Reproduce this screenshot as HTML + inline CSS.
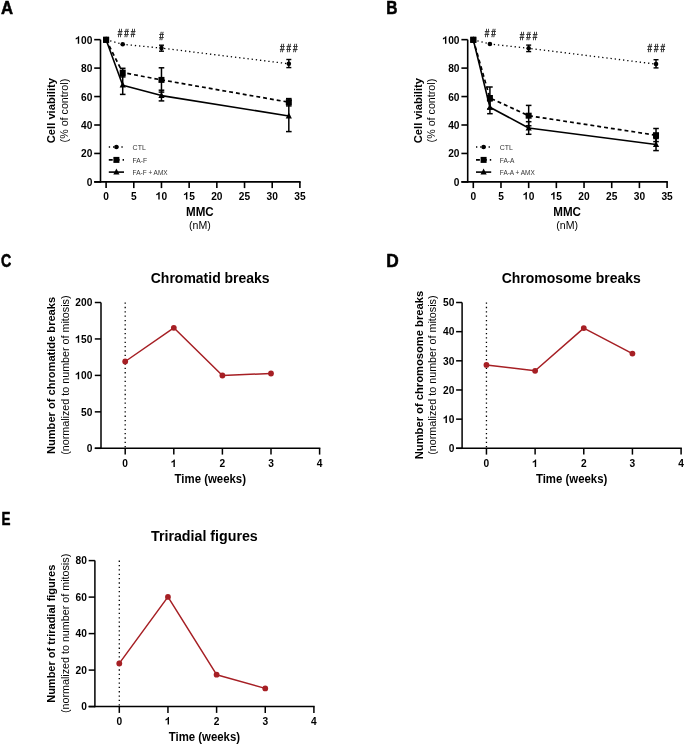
<!DOCTYPE html><html><head><meta charset="utf-8"><style>html,body{margin:0;padding:0;background:#fff;}svg{display:block;will-change:transform;filter:blur(0.35px);}text{font-family:"Liberation Sans", sans-serif;}</style></head><body>
<svg width="685" height="745" viewBox="0 0 685 745">
<rect width="685" height="745" fill="#fff"/>
<text transform="translate(0.9 13.8) scale(0.92 1)" font-size="18.2" font-weight="bold" fill="#000" stroke="#000" stroke-width="0.55" stroke-linejoin="round">A</text>
<text transform="translate(386.2 13.8) scale(0.85 1)" font-size="18.2" font-weight="bold" fill="#000" stroke="#000" stroke-width="0.55" stroke-linejoin="round">B</text>
<text transform="translate(1 266.8) scale(0.78 1)" font-size="18.2" font-weight="bold" fill="#000" stroke="#000" stroke-width="0.55" stroke-linejoin="round">C</text>
<text transform="translate(386.2 266.8) scale(0.95 1)" font-size="18.2" font-weight="bold" fill="#000" stroke="#000" stroke-width="0.55" stroke-linejoin="round">D</text>
<text transform="translate(1.4 524.8) scale(0.74 1)" font-size="18.2" font-weight="bold" fill="#000" stroke="#000" stroke-width="0.55" stroke-linejoin="round">E</text>
<line x1="100.5" y1="39.65" x2="100.5" y2="182.7" stroke="#000" stroke-width="1.6" stroke-linecap="butt"/>
<line x1="94.2" y1="181.9" x2="300.69" y2="181.9" stroke="#000" stroke-width="1.6" stroke-linecap="butt"/>
<line x1="94.2" y1="181.9" x2="100.5" y2="181.9" stroke="#000" stroke-width="1.6" stroke-linecap="butt"/>
<text transform="translate(86.63 185.9) scale(1 1.04)" font-size="10.2" font-weight="bold" fill="#000">0</text>
<line x1="94.2" y1="153.45" x2="100.5" y2="153.45" stroke="#000" stroke-width="1.6" stroke-linecap="butt"/>
<text transform="translate(80.95 157.45) scale(1 1.04)" font-size="10.2" font-weight="bold" fill="#000">2</text>
<text transform="translate(86.63 157.45) scale(1 1.04)" font-size="10.2" font-weight="bold" fill="#000">0</text>
<line x1="94.2" y1="125" x2="100.5" y2="125" stroke="#000" stroke-width="1.6" stroke-linecap="butt"/>
<text transform="translate(80.95 129) scale(1 1.04)" font-size="10.2" font-weight="bold" fill="#000">4</text>
<text transform="translate(86.63 129) scale(1 1.04)" font-size="10.2" font-weight="bold" fill="#000">0</text>
<line x1="94.2" y1="96.55" x2="100.5" y2="96.55" stroke="#000" stroke-width="1.6" stroke-linecap="butt"/>
<text transform="translate(80.95 100.55) scale(1 1.04)" font-size="10.2" font-weight="bold" fill="#000">6</text>
<text transform="translate(86.63 100.55) scale(1 1.04)" font-size="10.2" font-weight="bold" fill="#000">0</text>
<line x1="94.2" y1="68.1" x2="100.5" y2="68.1" stroke="#000" stroke-width="1.6" stroke-linecap="butt"/>
<text transform="translate(80.95 72.1) scale(1 1.04)" font-size="10.2" font-weight="bold" fill="#000">8</text>
<text transform="translate(86.63 72.1) scale(1 1.04)" font-size="10.2" font-weight="bold" fill="#000">0</text>
<line x1="94.2" y1="39.65" x2="100.5" y2="39.65" stroke="#000" stroke-width="1.6" stroke-linecap="butt"/>
<polygon points="79.17,43.65 79.17,36.15 78.19,36.15 77.85,36.92 77.22,37.45 76.45,37.86 75.71,38.09 75.71,39.52 76.5,39.21 77.22,38.84 77.77,38.47 77.77,43.65" fill="#000"/>
<text transform="translate(80.95 43.65) scale(1 1.04)" font-size="10.2" font-weight="bold" fill="#000">0</text>
<text transform="translate(86.63 43.65) scale(1 1.04)" font-size="10.2" font-weight="bold" fill="#000">0</text>
<line x1="106.1" y1="181.9" x2="106.1" y2="188.1" stroke="#000" stroke-width="1.6" stroke-linecap="butt"/>
<text transform="translate(103.26 199.5) scale(1 1.04)" font-size="10.2" font-weight="bold" fill="#000">0</text>
<line x1="133.78" y1="181.9" x2="133.78" y2="188.1" stroke="#000" stroke-width="1.6" stroke-linecap="butt"/>
<text transform="translate(130.95 199.5) scale(1 1.04)" font-size="10.2" font-weight="bold" fill="#000">5</text>
<line x1="161.47" y1="181.9" x2="161.47" y2="188.1" stroke="#000" stroke-width="1.6" stroke-linecap="butt"/>
<polygon points="159.68,199.5 159.68,192 158.7,192 158.37,192.77 157.73,193.3 156.97,193.71 156.23,193.94 156.23,195.37 157.02,195.06 157.73,194.69 158.29,194.32 158.29,199.5" fill="#000"/>
<text transform="translate(161.47 199.5) scale(1 1.04)" font-size="10.2" font-weight="bold" fill="#000">0</text>
<line x1="189.15" y1="181.9" x2="189.15" y2="188.1" stroke="#000" stroke-width="1.6" stroke-linecap="butt"/>
<polygon points="187.37,199.5 187.37,192 186.39,192 186.05,192.77 185.42,193.3 184.65,193.71 183.91,193.94 183.91,195.37 184.71,195.06 185.42,194.69 185.97,194.32 185.97,199.5" fill="#000"/>
<text transform="translate(189.15 199.5) scale(1 1.04)" font-size="10.2" font-weight="bold" fill="#000">5</text>
<line x1="216.84" y1="181.9" x2="216.84" y2="188.1" stroke="#000" stroke-width="1.6" stroke-linecap="butt"/>
<text transform="translate(211.17 199.5) scale(1 1.04)" font-size="10.2" font-weight="bold" fill="#000">2</text>
<text transform="translate(216.84 199.5) scale(1 1.04)" font-size="10.2" font-weight="bold" fill="#000">0</text>
<line x1="244.53" y1="181.9" x2="244.53" y2="188.1" stroke="#000" stroke-width="1.6" stroke-linecap="butt"/>
<text transform="translate(238.85 199.5) scale(1 1.04)" font-size="10.2" font-weight="bold" fill="#000">2</text>
<text transform="translate(244.53 199.5) scale(1 1.04)" font-size="10.2" font-weight="bold" fill="#000">5</text>
<line x1="272.21" y1="181.9" x2="272.21" y2="188.1" stroke="#000" stroke-width="1.6" stroke-linecap="butt"/>
<text transform="translate(266.54 199.5) scale(1 1.04)" font-size="10.2" font-weight="bold" fill="#000">3</text>
<text transform="translate(272.21 199.5) scale(1 1.04)" font-size="10.2" font-weight="bold" fill="#000">0</text>
<line x1="299.89" y1="181.9" x2="299.89" y2="188.1" stroke="#000" stroke-width="1.6" stroke-linecap="butt"/>
<text transform="translate(294.22 199.5) scale(1 1.04)" font-size="10.2" font-weight="bold" fill="#000">3</text>
<text transform="translate(299.89 199.5) scale(1 1.04)" font-size="10.2" font-weight="bold" fill="#000">5</text>
<text transform="translate(199.9 216.1) scale(1 1.04)" font-size="11.6" font-weight="bold" text-anchor="middle" fill="#000">MMC</text>
<text transform="translate(199.9 229.2) scale(1 1.04)" font-size="10.6" font-weight="normal" text-anchor="middle" fill="#000">(nM)</text>
<text transform="translate(55.2 110.6) rotate(-90) scale(1 1.04)" font-size="11.2" font-weight="bold" text-anchor="middle" fill="#000">Cell viability</text>
<text transform="translate(68.2 110.6) rotate(-90) scale(1 1.04)" font-size="10.7" font-weight="normal" text-anchor="middle" fill="#000">(% of control)</text>
<polyline points="106.1,39.8 122.71,85.2 161.47,95.6 288.82,116" fill="none" stroke="#000" stroke-width="1.6" stroke-linejoin="round" stroke-linecap="butt"/>
<polyline points="106.1,39.8 122.71,72.6 161.47,79.9 288.82,102.2" fill="none" stroke="#000" stroke-width="1.7" stroke-linejoin="round" stroke-linecap="butt" stroke-dasharray="3.9 3"/>
<polyline points="106.1,39.8 122.71,44.3 161.47,48.1 288.82,63.8" fill="none" stroke="#000" stroke-width="1.3" stroke-linejoin="round" stroke-linecap="butt" stroke-dasharray="1.3 2.9"/>
<line x1="161.47" y1="45.2" x2="161.47" y2="51.2" stroke="#000" stroke-width="1.4" stroke-linecap="butt"/>
<line x1="158.97" y1="45.2" x2="163.97" y2="45.2" stroke="#000" stroke-width="1.4" stroke-linecap="butt"/>
<line x1="158.97" y1="51.2" x2="163.97" y2="51.2" stroke="#000" stroke-width="1.4" stroke-linecap="butt"/>
<line x1="288.82" y1="59.5" x2="288.82" y2="67.6" stroke="#000" stroke-width="1.4" stroke-linecap="butt"/>
<line x1="286.32" y1="59.5" x2="291.32" y2="59.5" stroke="#000" stroke-width="1.4" stroke-linecap="butt"/>
<line x1="286.32" y1="67.6" x2="291.32" y2="67.6" stroke="#000" stroke-width="1.4" stroke-linecap="butt"/>
<line x1="122.71" y1="68.3" x2="122.71" y2="76.9" stroke="#000" stroke-width="1.5" stroke-linecap="butt"/>
<line x1="119.91" y1="68.3" x2="125.51" y2="68.3" stroke="#000" stroke-width="1.5" stroke-linecap="butt"/>
<line x1="119.91" y1="76.9" x2="125.51" y2="76.9" stroke="#000" stroke-width="1.5" stroke-linecap="butt"/>
<line x1="161.47" y1="67.8" x2="161.47" y2="92.1" stroke="#000" stroke-width="1.5" stroke-linecap="butt"/>
<line x1="158.67" y1="67.8" x2="164.27" y2="67.8" stroke="#000" stroke-width="1.5" stroke-linecap="butt"/>
<line x1="158.67" y1="92.1" x2="164.27" y2="92.1" stroke="#000" stroke-width="1.5" stroke-linecap="butt"/>
<line x1="288.82" y1="98.6" x2="288.82" y2="105.9" stroke="#000" stroke-width="1.5" stroke-linecap="butt"/>
<line x1="286.02" y1="98.6" x2="291.62" y2="98.6" stroke="#000" stroke-width="1.5" stroke-linecap="butt"/>
<line x1="286.02" y1="105.9" x2="291.62" y2="105.9" stroke="#000" stroke-width="1.5" stroke-linecap="butt"/>
<line x1="122.71" y1="75.5" x2="122.71" y2="94.4" stroke="#000" stroke-width="1.5" stroke-linecap="butt"/>
<line x1="119.91" y1="75.5" x2="125.51" y2="75.5" stroke="#000" stroke-width="1.5" stroke-linecap="butt"/>
<line x1="119.91" y1="94.4" x2="125.51" y2="94.4" stroke="#000" stroke-width="1.5" stroke-linecap="butt"/>
<line x1="161.47" y1="90.2" x2="161.47" y2="100.9" stroke="#000" stroke-width="1.5" stroke-linecap="butt"/>
<line x1="158.67" y1="90.2" x2="164.27" y2="90.2" stroke="#000" stroke-width="1.5" stroke-linecap="butt"/>
<line x1="158.67" y1="100.9" x2="164.27" y2="100.9" stroke="#000" stroke-width="1.5" stroke-linecap="butt"/>
<line x1="288.82" y1="100.3" x2="288.82" y2="131.6" stroke="#000" stroke-width="1.5" stroke-linecap="butt"/>
<line x1="286.02" y1="100.3" x2="291.62" y2="100.3" stroke="#000" stroke-width="1.5" stroke-linecap="butt"/>
<line x1="286.02" y1="131.6" x2="291.62" y2="131.6" stroke="#000" stroke-width="1.5" stroke-linecap="butt"/>
<polygon points="106.1,36.2 103,42.2 109.2,42.2" fill="#000"/>
<polygon points="122.71,81.6 119.61,87.6 125.81,87.6" fill="#000"/>
<polygon points="161.47,92 158.37,98 164.57,98" fill="#000"/>
<polygon points="288.82,112.4 285.72,118.4 291.92,118.4" fill="#000"/>
<rect x="103.1" y="36.8" width="6" height="6" fill="#000"/>
<rect x="119.71" y="69.6" width="6" height="6" fill="#000"/>
<rect x="158.47" y="76.9" width="6" height="6" fill="#000"/>
<rect x="285.82" y="99.2" width="6" height="6" fill="#000"/>
<circle cx="122.71" cy="44.3" r="2.3" fill="#000"/>
<circle cx="161.47" cy="48.1" r="2.3" fill="#000"/>
<circle cx="288.82" cy="63.8" r="2.3" fill="#000"/>
<rect x="103.1" y="36.8" width="6" height="6" fill="#000"/>
<text transform="translate(119.9 36.8) scale(0.8 1)" font-size="10.2" text-anchor="middle" fill="#000" stroke="#000" stroke-width="0.3">#</text>
<text transform="translate(126.4 36.8) scale(0.8 1)" font-size="10.2" text-anchor="middle" fill="#000" stroke="#000" stroke-width="0.3">#</text>
<text transform="translate(132.9 36.8) scale(0.8 1)" font-size="10.2" text-anchor="middle" fill="#000" stroke="#000" stroke-width="0.3">#</text>
<text transform="translate(161.4 39.7) scale(0.8 1)" font-size="10.2" text-anchor="middle" fill="#000" stroke="#000" stroke-width="0.3">#</text>
<text transform="translate(282.2 52.3) scale(0.8 1)" font-size="10.2" text-anchor="middle" fill="#000" stroke="#000" stroke-width="0.3">#</text>
<text transform="translate(288.7 52.3) scale(0.8 1)" font-size="10.2" text-anchor="middle" fill="#000" stroke="#000" stroke-width="0.3">#</text>
<text transform="translate(295.2 52.3) scale(0.8 1)" font-size="10.2" text-anchor="middle" fill="#000" stroke="#000" stroke-width="0.3">#</text>
<line x1="108.8" y1="147" x2="124" y2="147" stroke="#000" stroke-width="1.3" stroke-linecap="butt" stroke-dasharray="1.3 2.9"/>
<circle cx="116.4" cy="147" r="2.3" fill="#000"/>
<line x1="108.8" y1="159.9" x2="124" y2="159.9" stroke="#000" stroke-width="1.7" stroke-linecap="butt" stroke-dasharray="3.9 3"/>
<rect x="113.4" y="156.9" width="6" height="6" fill="#000"/>
<line x1="108.8" y1="172.1" x2="124" y2="172.1" stroke="#000" stroke-width="1.6" stroke-linecap="butt"/>
<polygon points="116.4,168.5 113.3,174.5 119.5,174.5" fill="#000"/>
<text transform="translate(132.6 149.6) scale(1 1.04)" font-size="7" font-weight="normal" text-anchor="start" fill="#333">CTL</text>
<text transform="translate(132.6 162.5) scale(1 1.04)" font-size="7" font-weight="normal" text-anchor="start" fill="#333" textLength="14.6" lengthAdjust="spacingAndGlyphs">FA-F</text>
<text transform="translate(132.6 174.7) scale(1 1.04)" font-size="7" font-weight="normal" text-anchor="start" fill="#333" textLength="35" lengthAdjust="spacingAndGlyphs">FA-F + AMX</text>
<line x1="467.7" y1="39.65" x2="467.7" y2="182.7" stroke="#000" stroke-width="1.6" stroke-linecap="butt"/>
<line x1="461.4" y1="181.9" x2="667.89" y2="181.9" stroke="#000" stroke-width="1.6" stroke-linecap="butt"/>
<line x1="461.4" y1="181.9" x2="467.7" y2="181.9" stroke="#000" stroke-width="1.6" stroke-linecap="butt"/>
<text transform="translate(453.83 185.9) scale(1 1.04)" font-size="10.2" font-weight="bold" fill="#000">0</text>
<line x1="461.4" y1="153.45" x2="467.7" y2="153.45" stroke="#000" stroke-width="1.6" stroke-linecap="butt"/>
<text transform="translate(448.15 157.45) scale(1 1.04)" font-size="10.2" font-weight="bold" fill="#000">2</text>
<text transform="translate(453.83 157.45) scale(1 1.04)" font-size="10.2" font-weight="bold" fill="#000">0</text>
<line x1="461.4" y1="125" x2="467.7" y2="125" stroke="#000" stroke-width="1.6" stroke-linecap="butt"/>
<text transform="translate(448.15 129) scale(1 1.04)" font-size="10.2" font-weight="bold" fill="#000">4</text>
<text transform="translate(453.83 129) scale(1 1.04)" font-size="10.2" font-weight="bold" fill="#000">0</text>
<line x1="461.4" y1="96.55" x2="467.7" y2="96.55" stroke="#000" stroke-width="1.6" stroke-linecap="butt"/>
<text transform="translate(448.15 100.55) scale(1 1.04)" font-size="10.2" font-weight="bold" fill="#000">6</text>
<text transform="translate(453.83 100.55) scale(1 1.04)" font-size="10.2" font-weight="bold" fill="#000">0</text>
<line x1="461.4" y1="68.1" x2="467.7" y2="68.1" stroke="#000" stroke-width="1.6" stroke-linecap="butt"/>
<text transform="translate(448.15 72.1) scale(1 1.04)" font-size="10.2" font-weight="bold" fill="#000">8</text>
<text transform="translate(453.83 72.1) scale(1 1.04)" font-size="10.2" font-weight="bold" fill="#000">0</text>
<line x1="461.4" y1="39.65" x2="467.7" y2="39.65" stroke="#000" stroke-width="1.6" stroke-linecap="butt"/>
<polygon points="446.37,43.65 446.37,36.15 445.39,36.15 445.05,36.92 444.42,37.45 443.65,37.86 442.91,38.09 442.91,39.52 443.7,39.21 444.42,38.84 444.97,38.47 444.97,43.65" fill="#000"/>
<text transform="translate(448.15 43.65) scale(1 1.04)" font-size="10.2" font-weight="bold" fill="#000">0</text>
<text transform="translate(453.83 43.65) scale(1 1.04)" font-size="10.2" font-weight="bold" fill="#000">0</text>
<line x1="473.3" y1="181.9" x2="473.3" y2="188.1" stroke="#000" stroke-width="1.6" stroke-linecap="butt"/>
<text transform="translate(470.46 199.5) scale(1 1.04)" font-size="10.2" font-weight="bold" fill="#000">0</text>
<line x1="500.98" y1="181.9" x2="500.98" y2="188.1" stroke="#000" stroke-width="1.6" stroke-linecap="butt"/>
<text transform="translate(498.15 199.5) scale(1 1.04)" font-size="10.2" font-weight="bold" fill="#000">5</text>
<line x1="528.67" y1="181.9" x2="528.67" y2="188.1" stroke="#000" stroke-width="1.6" stroke-linecap="butt"/>
<polygon points="526.88,199.5 526.88,192 525.9,192 525.57,192.77 524.93,193.3 524.17,193.71 523.43,193.94 523.43,195.37 524.22,195.06 524.93,194.69 525.49,194.32 525.49,199.5" fill="#000"/>
<text transform="translate(528.67 199.5) scale(1 1.04)" font-size="10.2" font-weight="bold" fill="#000">0</text>
<line x1="556.35" y1="181.9" x2="556.35" y2="188.1" stroke="#000" stroke-width="1.6" stroke-linecap="butt"/>
<polygon points="554.57,199.5 554.57,192 553.59,192 553.25,192.77 552.62,193.3 551.85,193.71 551.11,193.94 551.11,195.37 551.91,195.06 552.62,194.69 553.17,194.32 553.17,199.5" fill="#000"/>
<text transform="translate(556.35 199.5) scale(1 1.04)" font-size="10.2" font-weight="bold" fill="#000">5</text>
<line x1="584.04" y1="181.9" x2="584.04" y2="188.1" stroke="#000" stroke-width="1.6" stroke-linecap="butt"/>
<text transform="translate(578.37 199.5) scale(1 1.04)" font-size="10.2" font-weight="bold" fill="#000">2</text>
<text transform="translate(584.04 199.5) scale(1 1.04)" font-size="10.2" font-weight="bold" fill="#000">0</text>
<line x1="611.72" y1="181.9" x2="611.72" y2="188.1" stroke="#000" stroke-width="1.6" stroke-linecap="butt"/>
<text transform="translate(606.05 199.5) scale(1 1.04)" font-size="10.2" font-weight="bold" fill="#000">2</text>
<text transform="translate(611.72 199.5) scale(1 1.04)" font-size="10.2" font-weight="bold" fill="#000">5</text>
<line x1="639.41" y1="181.9" x2="639.41" y2="188.1" stroke="#000" stroke-width="1.6" stroke-linecap="butt"/>
<text transform="translate(633.74 199.5) scale(1 1.04)" font-size="10.2" font-weight="bold" fill="#000">3</text>
<text transform="translate(639.41 199.5) scale(1 1.04)" font-size="10.2" font-weight="bold" fill="#000">0</text>
<line x1="667.09" y1="181.9" x2="667.09" y2="188.1" stroke="#000" stroke-width="1.6" stroke-linecap="butt"/>
<text transform="translate(661.42 199.5) scale(1 1.04)" font-size="10.2" font-weight="bold" fill="#000">3</text>
<text transform="translate(667.09 199.5) scale(1 1.04)" font-size="10.2" font-weight="bold" fill="#000">5</text>
<text transform="translate(567.1 216.1) scale(1 1.04)" font-size="11.6" font-weight="bold" text-anchor="middle" fill="#000">MMC</text>
<text transform="translate(567.1 229.2) scale(1 1.04)" font-size="10.6" font-weight="normal" text-anchor="middle" fill="#000">(nM)</text>
<text transform="translate(422.4 110.6) rotate(-90) scale(1 1.04)" font-size="11.2" font-weight="bold" text-anchor="middle" fill="#000">Cell viability</text>
<text transform="translate(435.4 110.6) rotate(-90) scale(1 1.04)" font-size="10.7" font-weight="normal" text-anchor="middle" fill="#000">(% of control)</text>
<polyline points="473.3,39.8 489.91,107.3 528.67,128 656.02,144.5" fill="none" stroke="#000" stroke-width="1.6" stroke-linejoin="round" stroke-linecap="butt"/>
<polyline points="473.3,39.8 489.91,98 528.67,115.7 656.02,135.2" fill="none" stroke="#000" stroke-width="1.7" stroke-linejoin="round" stroke-linecap="butt" stroke-dasharray="3.9 3"/>
<polyline points="473.3,39.8 489.91,44 528.67,48.3 656.02,64.1" fill="none" stroke="#000" stroke-width="1.3" stroke-linejoin="round" stroke-linecap="butt" stroke-dasharray="1.3 2.9"/>
<line x1="528.67" y1="45.1" x2="528.67" y2="51.6" stroke="#000" stroke-width="1.4" stroke-linecap="butt"/>
<line x1="526.17" y1="45.1" x2="531.17" y2="45.1" stroke="#000" stroke-width="1.4" stroke-linecap="butt"/>
<line x1="526.17" y1="51.6" x2="531.17" y2="51.6" stroke="#000" stroke-width="1.4" stroke-linecap="butt"/>
<line x1="656.02" y1="59.7" x2="656.02" y2="67.9" stroke="#000" stroke-width="1.4" stroke-linecap="butt"/>
<line x1="653.52" y1="59.7" x2="658.52" y2="59.7" stroke="#000" stroke-width="1.4" stroke-linecap="butt"/>
<line x1="653.52" y1="67.9" x2="658.52" y2="67.9" stroke="#000" stroke-width="1.4" stroke-linecap="butt"/>
<line x1="489.91" y1="87" x2="489.91" y2="109" stroke="#000" stroke-width="1.5" stroke-linecap="butt"/>
<line x1="487.11" y1="87" x2="492.71" y2="87" stroke="#000" stroke-width="1.5" stroke-linecap="butt"/>
<line x1="487.11" y1="109" x2="492.71" y2="109" stroke="#000" stroke-width="1.5" stroke-linecap="butt"/>
<line x1="528.67" y1="105.4" x2="528.67" y2="125.8" stroke="#000" stroke-width="1.5" stroke-linecap="butt"/>
<line x1="525.87" y1="105.4" x2="531.47" y2="105.4" stroke="#000" stroke-width="1.5" stroke-linecap="butt"/>
<line x1="525.87" y1="125.8" x2="531.47" y2="125.8" stroke="#000" stroke-width="1.5" stroke-linecap="butt"/>
<line x1="656.02" y1="128.5" x2="656.02" y2="141.6" stroke="#000" stroke-width="1.5" stroke-linecap="butt"/>
<line x1="653.22" y1="128.5" x2="658.82" y2="128.5" stroke="#000" stroke-width="1.5" stroke-linecap="butt"/>
<line x1="653.22" y1="141.6" x2="658.82" y2="141.6" stroke="#000" stroke-width="1.5" stroke-linecap="butt"/>
<line x1="489.91" y1="100.9" x2="489.91" y2="113.7" stroke="#000" stroke-width="1.5" stroke-linecap="butt"/>
<line x1="487.11" y1="100.9" x2="492.71" y2="100.9" stroke="#000" stroke-width="1.5" stroke-linecap="butt"/>
<line x1="487.11" y1="113.7" x2="492.71" y2="113.7" stroke="#000" stroke-width="1.5" stroke-linecap="butt"/>
<line x1="528.67" y1="121.7" x2="528.67" y2="134.3" stroke="#000" stroke-width="1.5" stroke-linecap="butt"/>
<line x1="525.87" y1="121.7" x2="531.47" y2="121.7" stroke="#000" stroke-width="1.5" stroke-linecap="butt"/>
<line x1="525.87" y1="134.3" x2="531.47" y2="134.3" stroke="#000" stroke-width="1.5" stroke-linecap="butt"/>
<line x1="656.02" y1="138.5" x2="656.02" y2="150.6" stroke="#000" stroke-width="1.5" stroke-linecap="butt"/>
<line x1="653.22" y1="138.5" x2="658.82" y2="138.5" stroke="#000" stroke-width="1.5" stroke-linecap="butt"/>
<line x1="653.22" y1="150.6" x2="658.82" y2="150.6" stroke="#000" stroke-width="1.5" stroke-linecap="butt"/>
<polygon points="473.3,36.2 470.2,42.2 476.4,42.2" fill="#000"/>
<polygon points="489.91,103.7 486.81,109.7 493.01,109.7" fill="#000"/>
<polygon points="528.67,124.4 525.57,130.4 531.77,130.4" fill="#000"/>
<polygon points="656.02,140.9 652.92,146.9 659.12,146.9" fill="#000"/>
<rect x="470.3" y="36.8" width="6" height="6" fill="#000"/>
<rect x="486.91" y="95" width="6" height="6" fill="#000"/>
<rect x="525.67" y="112.7" width="6" height="6" fill="#000"/>
<rect x="653.02" y="132.2" width="6" height="6" fill="#000"/>
<circle cx="489.91" cy="44" r="2.3" fill="#000"/>
<circle cx="528.67" cy="48.3" r="2.3" fill="#000"/>
<circle cx="656.02" cy="64.1" r="2.3" fill="#000"/>
<rect x="470.3" y="36.8" width="6" height="6" fill="#000"/>
<text transform="translate(487.1 36.7) scale(0.8 1)" font-size="10.2" text-anchor="middle" fill="#000" stroke="#000" stroke-width="0.3">#</text>
<text transform="translate(493.6 36.7) scale(0.8 1)" font-size="10.2" text-anchor="middle" fill="#000" stroke="#000" stroke-width="0.3">#</text>
<text transform="translate(522.1 39.9) scale(0.8 1)" font-size="10.2" text-anchor="middle" fill="#000" stroke="#000" stroke-width="0.3">#</text>
<text transform="translate(528.6 39.9) scale(0.8 1)" font-size="10.2" text-anchor="middle" fill="#000" stroke="#000" stroke-width="0.3">#</text>
<text transform="translate(535.1 39.9) scale(0.8 1)" font-size="10.2" text-anchor="middle" fill="#000" stroke="#000" stroke-width="0.3">#</text>
<text transform="translate(649.75 52.2) scale(0.8 1)" font-size="10.2" text-anchor="middle" fill="#000" stroke="#000" stroke-width="0.3">#</text>
<text transform="translate(656.25 52.2) scale(0.8 1)" font-size="10.2" text-anchor="middle" fill="#000" stroke="#000" stroke-width="0.3">#</text>
<text transform="translate(662.75 52.2) scale(0.8 1)" font-size="10.2" text-anchor="middle" fill="#000" stroke="#000" stroke-width="0.3">#</text>
<line x1="476" y1="147" x2="491.2" y2="147" stroke="#000" stroke-width="1.3" stroke-linecap="butt" stroke-dasharray="1.3 2.9"/>
<circle cx="483.6" cy="147" r="2.3" fill="#000"/>
<line x1="476" y1="159.9" x2="491.2" y2="159.9" stroke="#000" stroke-width="1.7" stroke-linecap="butt" stroke-dasharray="3.9 3"/>
<rect x="480.6" y="156.9" width="6" height="6" fill="#000"/>
<line x1="476" y1="172.1" x2="491.2" y2="172.1" stroke="#000" stroke-width="1.6" stroke-linecap="butt"/>
<polygon points="483.6,168.5 480.5,174.5 486.7,174.5" fill="#000"/>
<text transform="translate(499.8 149.6) scale(1 1.04)" font-size="7" font-weight="normal" text-anchor="start" fill="#333">CTL</text>
<text transform="translate(499.8 162.5) scale(1 1.04)" font-size="7" font-weight="normal" text-anchor="start" fill="#333" textLength="14.6" lengthAdjust="spacingAndGlyphs">FA-A</text>
<text transform="translate(499.8 174.7) scale(1 1.04)" font-size="7" font-weight="normal" text-anchor="start" fill="#333" textLength="35" lengthAdjust="spacingAndGlyphs">FA-A + AMX</text>
<line x1="101" y1="302.5" x2="101" y2="449.05" stroke="#000" stroke-width="1.5" stroke-linecap="butt"/>
<line x1="94.8" y1="448.3" x2="320.35" y2="448.3" stroke="#000" stroke-width="1.5" stroke-linecap="butt"/>
<line x1="94.8" y1="448.3" x2="101" y2="448.3" stroke="#000" stroke-width="1.5" stroke-linecap="butt"/>
<text transform="translate(86.63 452.1) scale(1 1.04)" font-size="10.2" font-weight="bold" fill="#000">0</text>
<line x1="94.8" y1="411.85" x2="101" y2="411.85" stroke="#000" stroke-width="1.5" stroke-linecap="butt"/>
<text transform="translate(80.95 415.65) scale(1 1.04)" font-size="10.2" font-weight="bold" fill="#000">5</text>
<text transform="translate(86.63 415.65) scale(1 1.04)" font-size="10.2" font-weight="bold" fill="#000">0</text>
<line x1="94.8" y1="375.4" x2="101" y2="375.4" stroke="#000" stroke-width="1.5" stroke-linecap="butt"/>
<polygon points="79.17,379.2 79.17,371.7 78.19,371.7 77.85,372.47 77.22,373 76.45,373.41 75.71,373.64 75.71,375.07 76.5,374.76 77.22,374.39 77.77,374.02 77.77,379.2" fill="#000"/>
<text transform="translate(80.95 379.2) scale(1 1.04)" font-size="10.2" font-weight="bold" fill="#000">0</text>
<text transform="translate(86.63 379.2) scale(1 1.04)" font-size="10.2" font-weight="bold" fill="#000">0</text>
<line x1="94.8" y1="338.95" x2="101" y2="338.95" stroke="#000" stroke-width="1.5" stroke-linecap="butt"/>
<polygon points="79.17,342.75 79.17,335.25 78.19,335.25 77.85,336.02 77.22,336.55 76.45,336.96 75.71,337.19 75.71,338.62 76.5,338.31 77.22,337.94 77.77,337.57 77.77,342.75" fill="#000"/>
<text transform="translate(80.95 342.75) scale(1 1.04)" font-size="10.2" font-weight="bold" fill="#000">5</text>
<text transform="translate(86.63 342.75) scale(1 1.04)" font-size="10.2" font-weight="bold" fill="#000">0</text>
<line x1="94.8" y1="302.5" x2="101" y2="302.5" stroke="#000" stroke-width="1.5" stroke-linecap="butt"/>
<text transform="translate(75.28 306.3) scale(1 1.04)" font-size="10.2" font-weight="bold" fill="#000">2</text>
<text transform="translate(80.95 306.3) scale(1 1.04)" font-size="10.2" font-weight="bold" fill="#000">0</text>
<text transform="translate(86.63 306.3) scale(1 1.04)" font-size="10.2" font-weight="bold" fill="#000">0</text>
<line x1="125.2" y1="448.3" x2="125.2" y2="454.6" stroke="#000" stroke-width="1.5" stroke-linecap="butt"/>
<text transform="translate(122.36 467) scale(1 1.04)" font-size="10.2" font-weight="bold" fill="#000">0</text>
<line x1="173.8" y1="448.3" x2="173.8" y2="454.6" stroke="#000" stroke-width="1.5" stroke-linecap="butt"/>
<polygon points="174.85,467 174.85,459.5 173.87,459.5 173.53,460.27 172.9,460.8 172.14,461.21 171.39,461.44 171.39,462.87 172.19,462.56 172.9,462.19 173.45,461.82 173.45,467" fill="#000"/>
<line x1="222.4" y1="448.3" x2="222.4" y2="454.6" stroke="#000" stroke-width="1.5" stroke-linecap="butt"/>
<text transform="translate(219.56 467) scale(1 1.04)" font-size="10.2" font-weight="bold" fill="#000">2</text>
<line x1="271" y1="448.3" x2="271" y2="454.6" stroke="#000" stroke-width="1.5" stroke-linecap="butt"/>
<text transform="translate(268.16 467) scale(1 1.04)" font-size="10.2" font-weight="bold" fill="#000">3</text>
<line x1="319.6" y1="448.3" x2="319.6" y2="454.6" stroke="#000" stroke-width="1.5" stroke-linecap="butt"/>
<text transform="translate(316.76 467) scale(1 1.04)" font-size="10.2" font-weight="bold" fill="#000">4</text>
<line x1="125.2" y1="302.5" x2="125.2" y2="448.3" stroke="#000" stroke-width="1.3" stroke-linecap="butt" stroke-dasharray="1.3 3.05"/>
<polyline points="125.2,361.5 173.8,327.8 222.4,375.5 271,373.5" fill="none" stroke="#a61f24" stroke-width="1.5" stroke-linejoin="round" stroke-linecap="butt"/>
<circle cx="125.2" cy="361.5" r="2.9" fill="#a61f24"/>
<circle cx="173.8" cy="327.8" r="2.9" fill="#a61f24"/>
<circle cx="222.4" cy="375.5" r="2.9" fill="#a61f24"/>
<circle cx="271" cy="373.5" r="2.9" fill="#a61f24"/>
<text transform="translate(210.2 283.3) scale(1 1.04)" font-size="14" font-weight="bold" text-anchor="middle" fill="#000">Chromatid breaks</text>
<text transform="translate(210.3 483) scale(1 1.04)" font-size="11.4" font-weight="bold" text-anchor="middle" fill="#000">Time (weeks)</text>
<text transform="translate(55.3 375.45) rotate(-90) scale(1 1.04)" font-size="11.1" font-weight="bold" text-anchor="middle" fill="#000">Number of chromatide breaks</text>
<text transform="translate(68.5 375.15) rotate(-90) scale(1 1.04)" font-size="10.75" font-weight="normal" text-anchor="middle" fill="#000">(normalized to number of mitosis)</text>
<line x1="462.1" y1="302.5" x2="462.1" y2="449.05" stroke="#000" stroke-width="1.5" stroke-linecap="butt"/>
<line x1="456.1" y1="448.3" x2="681.84" y2="448.3" stroke="#000" stroke-width="1.5" stroke-linecap="butt"/>
<line x1="456.1" y1="448.3" x2="462.1" y2="448.3" stroke="#000" stroke-width="1.5" stroke-linecap="butt"/>
<text transform="translate(448.73 452.1) scale(1 1.04)" font-size="10.2" font-weight="bold" fill="#000">0</text>
<line x1="456.1" y1="419.14" x2="462.1" y2="419.14" stroke="#000" stroke-width="1.5" stroke-linecap="butt"/>
<polygon points="446.94,422.94 446.94,415.44 445.96,415.44 445.62,416.21 444.99,416.74 444.23,417.15 443.48,417.38 443.48,418.81 444.28,418.5 444.99,418.13 445.54,417.76 445.54,422.94" fill="#000"/>
<text transform="translate(448.73 422.94) scale(1 1.04)" font-size="10.2" font-weight="bold" fill="#000">0</text>
<line x1="456.1" y1="389.98" x2="462.1" y2="389.98" stroke="#000" stroke-width="1.5" stroke-linecap="butt"/>
<text transform="translate(443.05 393.78) scale(1 1.04)" font-size="10.2" font-weight="bold" fill="#000">2</text>
<text transform="translate(448.73 393.78) scale(1 1.04)" font-size="10.2" font-weight="bold" fill="#000">0</text>
<line x1="456.1" y1="360.82" x2="462.1" y2="360.82" stroke="#000" stroke-width="1.5" stroke-linecap="butt"/>
<text transform="translate(443.05 364.62) scale(1 1.04)" font-size="10.2" font-weight="bold" fill="#000">3</text>
<text transform="translate(448.73 364.62) scale(1 1.04)" font-size="10.2" font-weight="bold" fill="#000">0</text>
<line x1="456.1" y1="331.66" x2="462.1" y2="331.66" stroke="#000" stroke-width="1.5" stroke-linecap="butt"/>
<text transform="translate(443.05 335.46) scale(1 1.04)" font-size="10.2" font-weight="bold" fill="#000">4</text>
<text transform="translate(448.73 335.46) scale(1 1.04)" font-size="10.2" font-weight="bold" fill="#000">0</text>
<line x1="456.1" y1="302.5" x2="462.1" y2="302.5" stroke="#000" stroke-width="1.5" stroke-linecap="butt"/>
<text transform="translate(443.05 306.3) scale(1 1.04)" font-size="10.2" font-weight="bold" fill="#000">5</text>
<text transform="translate(448.73 306.3) scale(1 1.04)" font-size="10.2" font-weight="bold" fill="#000">0</text>
<line x1="486.45" y1="448.3" x2="486.45" y2="454.6" stroke="#000" stroke-width="1.5" stroke-linecap="butt"/>
<text transform="translate(483.61 467) scale(1 1.04)" font-size="10.2" font-weight="bold" fill="#000">0</text>
<line x1="535.11" y1="448.3" x2="535.11" y2="454.6" stroke="#000" stroke-width="1.5" stroke-linecap="butt"/>
<polygon points="536.16,467 536.16,459.5 535.18,459.5 534.84,460.27 534.21,460.8 533.45,461.21 532.7,461.44 532.7,462.87 533.5,462.56 534.21,462.19 534.76,461.82 534.76,467" fill="#000"/>
<line x1="583.77" y1="448.3" x2="583.77" y2="454.6" stroke="#000" stroke-width="1.5" stroke-linecap="butt"/>
<text transform="translate(580.93 467) scale(1 1.04)" font-size="10.2" font-weight="bold" fill="#000">2</text>
<line x1="632.43" y1="448.3" x2="632.43" y2="454.6" stroke="#000" stroke-width="1.5" stroke-linecap="butt"/>
<text transform="translate(629.59 467) scale(1 1.04)" font-size="10.2" font-weight="bold" fill="#000">3</text>
<line x1="681.09" y1="448.3" x2="681.09" y2="454.6" stroke="#000" stroke-width="1.5" stroke-linecap="butt"/>
<text transform="translate(678.25 467) scale(1 1.04)" font-size="10.2" font-weight="bold" fill="#000">4</text>
<line x1="486.45" y1="302.5" x2="486.45" y2="448.3" stroke="#000" stroke-width="1.3" stroke-linecap="butt" stroke-dasharray="1.3 3.05"/>
<polyline points="486.45,364.9 535.11,370.8 583.77,328.1 632.43,353.6" fill="none" stroke="#a61f24" stroke-width="1.5" stroke-linejoin="round" stroke-linecap="butt"/>
<circle cx="486.45" cy="364.9" r="2.9" fill="#a61f24"/>
<circle cx="535.11" cy="370.8" r="2.9" fill="#a61f24"/>
<circle cx="583.77" cy="328.1" r="2.9" fill="#a61f24"/>
<circle cx="632.43" cy="353.6" r="2.9" fill="#a61f24"/>
<text transform="translate(571.2 283.1) scale(1 1.04)" font-size="14" font-weight="bold" text-anchor="middle" fill="#000">Chromosome breaks</text>
<text transform="translate(571.6 483) scale(1 1.04)" font-size="11.4" font-weight="bold" text-anchor="middle" fill="#000">Time (weeks)</text>
<text transform="translate(422.5 375.05) rotate(-90) scale(1 1.04)" font-size="11.2" font-weight="bold" text-anchor="middle" fill="#000">Number of chromosome breaks</text>
<text transform="translate(435.6 375.15) rotate(-90) scale(1 1.04)" font-size="10.75" font-weight="normal" text-anchor="middle" fill="#000">(normalized to number of mitosis)</text>
<line x1="94.9" y1="560.6" x2="94.9" y2="707.35" stroke="#000" stroke-width="1.5" stroke-linecap="butt"/>
<line x1="88.65" y1="706.6" x2="314.65" y2="706.6" stroke="#000" stroke-width="1.5" stroke-linecap="butt"/>
<line x1="88.65" y1="706.6" x2="94.9" y2="706.6" stroke="#000" stroke-width="1.5" stroke-linecap="butt"/>
<text transform="translate(81.13 710.4) scale(1 1.04)" font-size="10.2" font-weight="bold" fill="#000">0</text>
<line x1="88.65" y1="670.1" x2="94.9" y2="670.1" stroke="#000" stroke-width="1.5" stroke-linecap="butt"/>
<text transform="translate(75.45 673.9) scale(1 1.04)" font-size="10.2" font-weight="bold" fill="#000">2</text>
<text transform="translate(81.13 673.9) scale(1 1.04)" font-size="10.2" font-weight="bold" fill="#000">0</text>
<line x1="88.65" y1="633.6" x2="94.9" y2="633.6" stroke="#000" stroke-width="1.5" stroke-linecap="butt"/>
<text transform="translate(75.45 637.4) scale(1 1.04)" font-size="10.2" font-weight="bold" fill="#000">4</text>
<text transform="translate(81.13 637.4) scale(1 1.04)" font-size="10.2" font-weight="bold" fill="#000">0</text>
<line x1="88.65" y1="597.1" x2="94.9" y2="597.1" stroke="#000" stroke-width="1.5" stroke-linecap="butt"/>
<text transform="translate(75.45 600.9) scale(1 1.04)" font-size="10.2" font-weight="bold" fill="#000">6</text>
<text transform="translate(81.13 600.9) scale(1 1.04)" font-size="10.2" font-weight="bold" fill="#000">0</text>
<line x1="88.65" y1="560.6" x2="94.9" y2="560.6" stroke="#000" stroke-width="1.5" stroke-linecap="butt"/>
<text transform="translate(75.45 564.4) scale(1 1.04)" font-size="10.2" font-weight="bold" fill="#000">8</text>
<text transform="translate(81.13 564.4) scale(1 1.04)" font-size="10.2" font-weight="bold" fill="#000">0</text>
<line x1="119.3" y1="706.6" x2="119.3" y2="712.9" stroke="#000" stroke-width="1.5" stroke-linecap="butt"/>
<text transform="translate(116.46 724.6) scale(1 1.04)" font-size="10.2" font-weight="bold" fill="#000">0</text>
<line x1="167.95" y1="706.6" x2="167.95" y2="712.9" stroke="#000" stroke-width="1.5" stroke-linecap="butt"/>
<polygon points="169,724.6 169,717.1 168.02,717.1 167.68,717.87 167.05,718.4 166.29,718.81 165.54,719.04 165.54,720.47 166.34,720.16 167.05,719.79 167.6,719.42 167.6,724.6" fill="#000"/>
<line x1="216.6" y1="706.6" x2="216.6" y2="712.9" stroke="#000" stroke-width="1.5" stroke-linecap="butt"/>
<text transform="translate(213.76 724.6) scale(1 1.04)" font-size="10.2" font-weight="bold" fill="#000">2</text>
<line x1="265.25" y1="706.6" x2="265.25" y2="712.9" stroke="#000" stroke-width="1.5" stroke-linecap="butt"/>
<text transform="translate(262.41 724.6) scale(1 1.04)" font-size="10.2" font-weight="bold" fill="#000">3</text>
<line x1="313.9" y1="706.6" x2="313.9" y2="712.9" stroke="#000" stroke-width="1.5" stroke-linecap="butt"/>
<text transform="translate(311.06 724.6) scale(1 1.04)" font-size="10.2" font-weight="bold" fill="#000">4</text>
<line x1="119.3" y1="560.6" x2="119.3" y2="706.6" stroke="#000" stroke-width="1.3" stroke-linecap="butt" stroke-dasharray="1.3 3.05"/>
<polyline points="119.3,663.4 167.95,596.9 216.6,674.7 265.25,688.4" fill="none" stroke="#a61f24" stroke-width="1.5" stroke-linejoin="round" stroke-linecap="butt"/>
<circle cx="119.3" cy="663.4" r="2.9" fill="#a61f24"/>
<circle cx="167.95" cy="596.9" r="2.9" fill="#a61f24"/>
<circle cx="216.6" cy="674.7" r="2.9" fill="#a61f24"/>
<circle cx="265.25" cy="688.4" r="2.9" fill="#a61f24"/>
<text transform="translate(204.4 540.9) scale(1 1.04)" font-size="14.25" font-weight="bold" text-anchor="middle" fill="#000">Triradial figures</text>
<text transform="translate(204.4 741.4) scale(1 1.04)" font-size="11.4" font-weight="bold" text-anchor="middle" fill="#000">Time (weeks)</text>
<text transform="translate(55.3 633.75) rotate(-90) scale(1 1.04)" font-size="11" font-weight="bold" text-anchor="middle" fill="#000">Number of triradial figures</text>
<text transform="translate(68.6 633.45) rotate(-90) scale(1 1.04)" font-size="10.75" font-weight="normal" text-anchor="middle" fill="#000">(normalized to number of mitosis)</text>
</svg></body></html>
